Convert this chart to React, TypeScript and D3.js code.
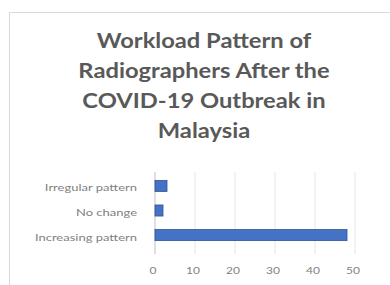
import React from "react";
import * as d3 from "d3";

const categories = ["Irregular pattern", "No change", "Increasing pattern"];
const values = [3, 2, 48];
const tickValues = [0, 10, 20, 30, 40, 50];
const titleLines = ["Workload Pattern of", "Radiographers After the", "COVID-19 Outbreak in", "Malaysia"];

export default function App() {
  const W = 390, H = 285;
  const x = d3.scaleLinear().domain([0, 50]).range([155, 355]);
  const y = d3.scaleBand().domain(categories).range([173, 248]).paddingInner(0.55).paddingOuter(0.3);
  const font = "Lato, 'Open Sans', sans-serif";
  return (
    <div style={{ position: "fixed", left: 0, top: 0, width: W, height: H, background: "#fff" }}>
      <svg width={W} height={H} style={{ display: "block" }}>
        <rect x={9.5} y={12.5} width={400} height={300} fill="#fff" stroke="#d9d9d9" strokeWidth={1} />
        {titleLines.map((t, i) => (
          <text key={i} transform={`translate(204,${48 + i * 30}) scale(1.13,1)`} textAnchor="middle" fontFamily={font} fontWeight={700} fontSize={21} fill="#595959">{t}</text>
        ))}
        {tickValues.filter(v => v > 0).map(v => (
          <line key={v} x1={x(v)} x2={x(v)} y1={172} y2={254} stroke="#e6e6e6" strokeWidth={1} />
        ))}
        <line x1={x(0)} x2={x(0)} y1={172} y2={254} stroke="#bfbfbf" strokeWidth={1} />
        {categories.map((c, i) => (
          <g key={c}>
            <rect x={x(0)} y={y(c)!} width={x(values[i]) - x(0)} height={y.bandwidth()} fill="#4472C4" stroke="#2f5597" strokeWidth={0.8} />
            <text transform={`translate(137,${y(c)! + y.bandwidth() / 2 + 2}) scale(1.3,1)`} dy="0.35em" textAnchor="end" fontFamily={font} fontSize={10} fill="#7f7f7f">{c}</text>
          </g>
        ))}
        {tickValues.map(v => (
          <text key={v} transform={`translate(${x(v) - 2},270) scale(1.2,1)`} dy="0.35em" textAnchor="middle" fontFamily={font} fontSize={10} fill="#7f7f7f">{v}</text>
        ))}
      </svg>
    </div>
  );
}
